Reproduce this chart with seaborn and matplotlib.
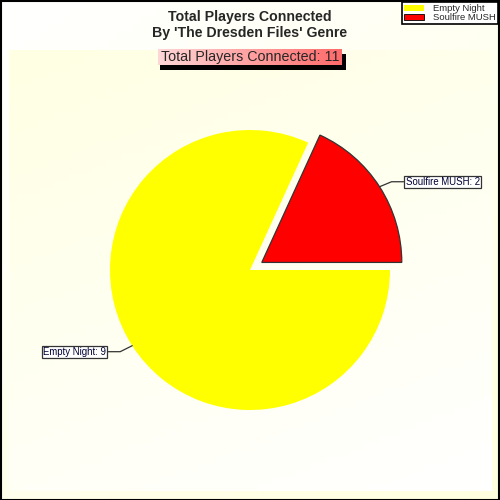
import numpy as np
import matplotlib
matplotlib.use("Agg")
import matplotlib.pyplot as plt
import seaborn as sns
from matplotlib.patches import Rectangle, Patch

# data
games = ["Soulfire MUSH", "Empty Night"]
players = [2, 9]
colors = ["#FF0000", "#FFFF00"]
legend_order = ["Empty Night", "Soulfire MUSH"]

title = "Total Players Connected\nBy 'The Dresden Files' Genre"
subtitle = f"Total Players Connected: {sum(players)}"

sns.set_theme(style="white")
plt.rcParams["font.family"] = ["Liberation Sans", "DejaVu Sans"]

W = H = 500
fig = plt.figure(figsize=(5, 5), dpi=100)


def py(y):
    # pixel row (top=0) -> data y (bottom=0)
    return H - y


# background gradients
bg = fig.add_axes([0, 0, 1, 1])
bg.set_xlim(0, W)
bg.set_ylim(0, H)
bg.axis("off")
gx, gy = np.meshgrid(np.linspace(0, 1, 64), np.linspace(0, 1, 64))
white = np.array([1.0, 1.0, 1.0])
cream = np.array([1.0, 1.0, 0.88])
t = (gx * 0.4 + gy * 0.6)
outer = white * (1 - t[..., None]) + cream * t[..., None]
bg.imshow(outer, extent=[0, W, 0, H], origin="upper", aspect="auto", zorder=0)
t2 = 1 - (gx * 0.3 + gy * 0.7)
inner = white * (1 - t2[..., None] * 0.9) + cream * t2[..., None] * 0.9
bg.imshow(inner, extent=[9, 492, py(491), py(50)], origin="upper", aspect="auto", zorder=1)
bg.add_patch(Rectangle((0.5, 0.5), W - 1.5, H - 1.5, fill=False, ec="black", lw=1.5, zorder=5))

ax = fig.add_axes([0, 0, 1, 1])
ax.patch.set_alpha(0)

center = (250, py(270))
radius = 140
# explode is in data units when radius is given in pixels
wedges, _ = ax.pie(players, colors=colors, startangle=0, counterclock=True,
                   explode=[14, 0], center=center, radius=radius, frame=True,
                   wedgeprops=dict(linewidth=0))
ax.set_xlim(0, W)
ax.set_ylim(0, H)
ax.axis("off")
wedges[0].set_edgecolor("#333333")
wedges[0].set_linewidth(0.9)

# labels with leader lines
for w, name, val in zip(wedges, games, players):
    mid = np.deg2rad((w.theta1 + w.theta2) / 2)
    cx, cy = w.center
    x0 = cx + radius * np.cos(mid)
    y0 = cy + radius * np.sin(mid)
    side = 1 if np.cos(mid) > 0 else -1
    x1 = x0 + side * 12
    y1 = y0 + (-6 if side < 0 else 5)
    x2 = x1 + side * 12
    ax.plot([x0, x1, x2], [y0, y1, y1], color="#333333", lw=0.9, zorder=3)
    ax.text(x2 + side * 2, y1, f"{name}: {val}", fontsize=6.9,
            ha="left" if side > 0 else "right", va="center", color="#000033",
            bbox=dict(boxstyle="square,pad=0.12", fc="white", ec="#333333", lw=0.9),
            zorder=4)

# title
fig.text(0.5, py(25) / H, title, ha="center", va="center", fontsize=10.2,
         fontweight="bold", linespacing=1.15)

# subtitle box with shadow and gradient
bx0, bx1, by0, by1 = 158, 342, 49, 65
ax.add_patch(Rectangle((bx0 + 2, py(by1 + 5)), bx1 - bx0 + 2, by1 - by0,
                       fc="black", ec="none", zorder=5))
grad = np.linspace(0, 1, 64)[None, :, None]
pink = np.array([1.0, 0.84, 0.84]) * (1 - grad) + np.array([1.0, 0.42, 0.42]) * grad
ax.imshow(pink, extent=[bx0, bx1, py(by1), py(by0)], aspect="auto", zorder=6)
ax.set_xlim(0, W)
ax.set_ylim(0, H)
ax.text((bx0 + bx1) / 2, py((by0 + by1) / 2 + 0.5), subtitle, ha="center", va="center",
        fontsize=10.3, zorder=7)

# legend
handle_map = {g: Patch(fc=c, ec="black" if c == "#FF0000" else "none", lw=0.6)
              for g, c in zip(games, colors)}
leg = fig.legend([handle_map[g] for g in legend_order], legend_order,
                 loc="upper right", bbox_to_anchor=(0.995, 0.995), fontsize=6.8,
                 frameon=True, fancybox=False, edgecolor="black", framealpha=1,
                 borderpad=0.15, labelspacing=0.05, handlelength=2.2, handleheight=0.6,
                 handletextpad=0.95, borderaxespad=0)
leg.get_frame().set_linewidth(1.2)

fig.savefig("out.png", dpi=100)
